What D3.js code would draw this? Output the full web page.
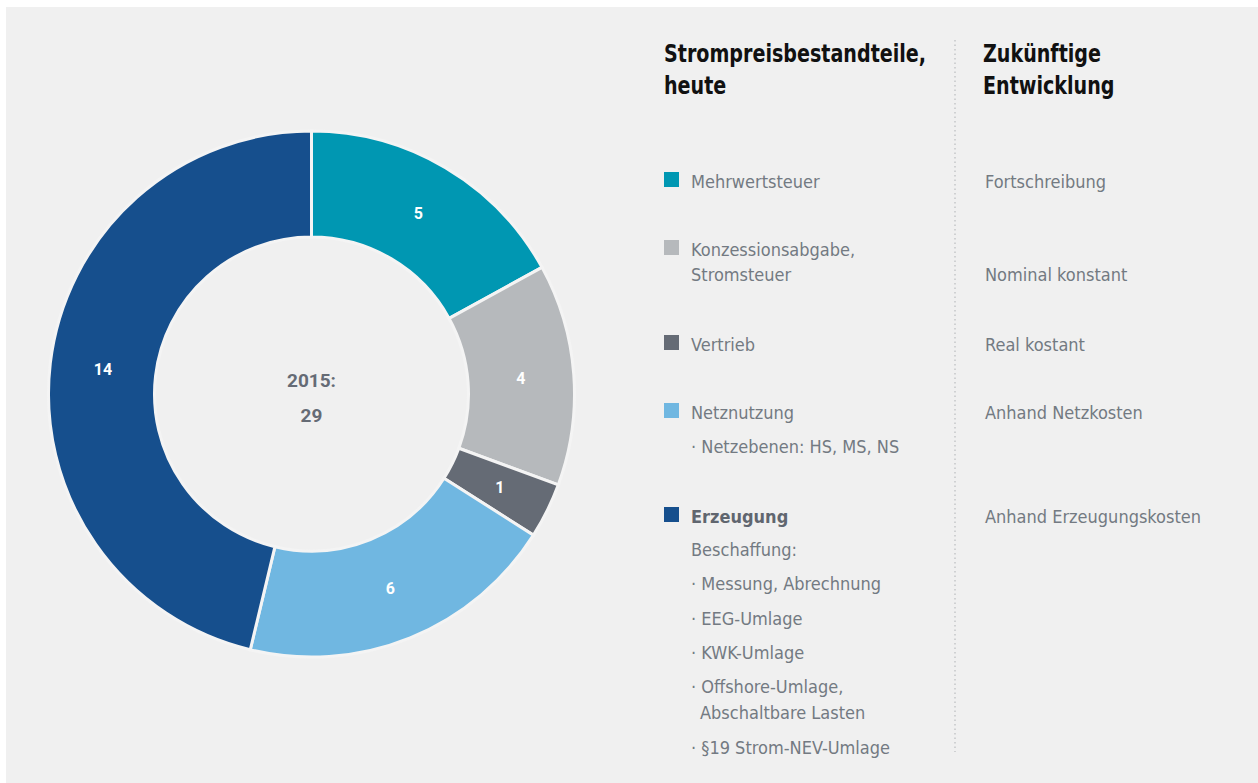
<!DOCTYPE html>
<html>
<head>
<meta charset="utf-8">
<script src="https://cdn.jsdelivr.net/npm/d3@7"></script>
<style>
  body { margin: 0; background: #fff; }
  svg { display: block; }
  text { font-family: "Liberation Sans Narrow", "DejaVu Sans Condensed", "Roboto Condensed", sans-serif; }
</style>
</head>
<body>
<svg id="chart" width="1258" height="783"></svg>
<script>
// data
var categories = ["Mehrwertsteuer", "Konzessionsabgabe, Stromsteuer", "Vertrieb", "Netznutzung", "Erzeugung"];
var values = [5.0, 4.0, 1.0, 5.8, 13.6];
var segmentLabels = ["5", "4", "1", "6", "14"];
var colors = ["#0097b2", "#b6b9bc", "#656b75", "#70b7e1", "#164f8d"];
var centerLines = ["2015:", "29"];

var headerLeft = ["Strompreisbestandteile,", "heute"];
var headerRight = ["Zukünftige", "Entwicklung"];

// legend text lines per category (first line is the name)
var legendLines = [
  ["Mehrwertsteuer"],
  ["Konzessionsabgabe,", "Stromsteuer"],
  ["Vertrieb"],
  ["Netznutzung", "· Netzebenen: HS, MS, NS"],
  ["Erzeugung", "Beschaffung:", "· Messung, Abrechnung", "· EEG-Umlage", "· KWK-Umlage", "· Offshore-Umlage,", "  Abschaltbare Lasten", "· §19 Strom-NEV-Umlage"]
];
var futureLines = ["Fortschreibung", "Nominal konstant", "Real kostant", "Anhand Netzkosten", "Anhand Erzeugungskosten"];

// layout
var rowTop = [188, 256, 351, 419, 523];       // baseline of first line
var lineGap = [[0], [0, 25], [0], [0, 34], [0, 33, 67, 102, 136, 170, 196, 231]];
var futureOffset = [0, 25, 0, 0, 0];

var svg = d3.select("#chart");

svg.append("rect")
  .attr("x", 6).attr("y", 7)
  .attr("width", 1252).attr("height", 776)
  .attr("fill", "#f0f0f0");

var cx = 311.5, cy = 394, outerR = 263, innerR = 157;

var pie = d3.pie().sort(null).value(function (d) { return d; });
var arc = d3.arc().innerRadius(innerR).outerRadius(outerR);
var arcs = pie(values);

var g = svg.append("g").attr("transform", "translate(" + cx + "," + cy + ")");

g.selectAll("path.seg")
  .data(arcs)
  .enter().append("path")
  .attr("class", "seg")
  .attr("d", arc)
  .attr("fill", function (d, i) { return colors[i]; })
  .attr("stroke", "#f4f4f4")
  .attr("stroke-width", 3);

g.selectAll("text.seg")
  .data(arcs)
  .enter().append("text")
  .attr("class", "seg")
  .attr("transform", function (d) { return "translate(" + arc.centroid(d) + ")"; })
  .attr("dy", "0.36em")
  .attr("text-anchor", "middle")
  .style("font-family", "Roboto, 'DejaVu Sans', sans-serif")
  .style("font-weight", "bold")
  .style("font-size", "16px")
  .attr("fill", "#fff")
  .text(function (d, i) { return segmentLabels[i]; });

g.selectAll("text.center")
  .data(centerLines)
  .enter().append("text")
  .attr("class", "center")
  .attr("y", function (d, i) { return -7 + i * 35; })
  .attr("text-anchor", "middle")
  .style("font-family", "Roboto, 'DejaVu Sans', sans-serif")
  .style("font-weight", "bold")
  .style("font-size", "19px")
  .attr("fill", "#656b75")
  .text(function (d) { return d; });

// headers (condensed by a horizontal squeeze)
function header(lines, x) {
  svg.append("g")
    .attr("transform", "translate(" + x + ",0) scale(0.885,1)")
    .selectAll("text")
    .data(lines)
    .enter().append("text")
    .attr("x", 0)
    .attr("y", function (d, i) { return 62 + i * 32; })
    .style("font-weight", "bold")
    .style("font-size", "24px")
    .attr("fill", "#111")
    .text(function (d) { return d; });
}
header(headerLeft, 664);
header(headerRight, 983);

// dotted divider
svg.append("line")
  .attr("x1", 955).attr("x2", 955)
  .attr("y1", 40).attr("y2", 752)
  .attr("stroke", "#b9bcbf")
  .attr("stroke-width", 1.2)
  .attr("stroke-dasharray", "1.5,3");

// legend
var legend = svg.append("g");
categories.forEach(function (c, i) {
  legend.append("rect")
    .attr("x", 664).attr("y", rowTop[i] - 16)
    .attr("width", 15).attr("height", 15)
    .attr("fill", colors[i]);

  legendLines[i].forEach(function (line, j) {
    var indent = line.indexOf("  ") === 0;
    legend.append("text")
      .attr("x", indent ? 700 : 691)
      .attr("y", rowTop[i] + lineGap[i][j])
      .style("font-size", "18px")
      .style("font-weight", (i === 4 && j === 0) ? "bold" : "normal")
      .attr("fill", (i === 4 && j === 0) ? "#60666f" : "#737a82")
      .text(line.trim());
  });

  legend.append("text")
    .attr("x", 985)
    .attr("y", rowTop[i] + futureOffset[i])
    .style("font-size", "18px")
    .attr("fill", "#737a82")
    .text(futureLines[i]);
});
</script>
</body>
</html>
